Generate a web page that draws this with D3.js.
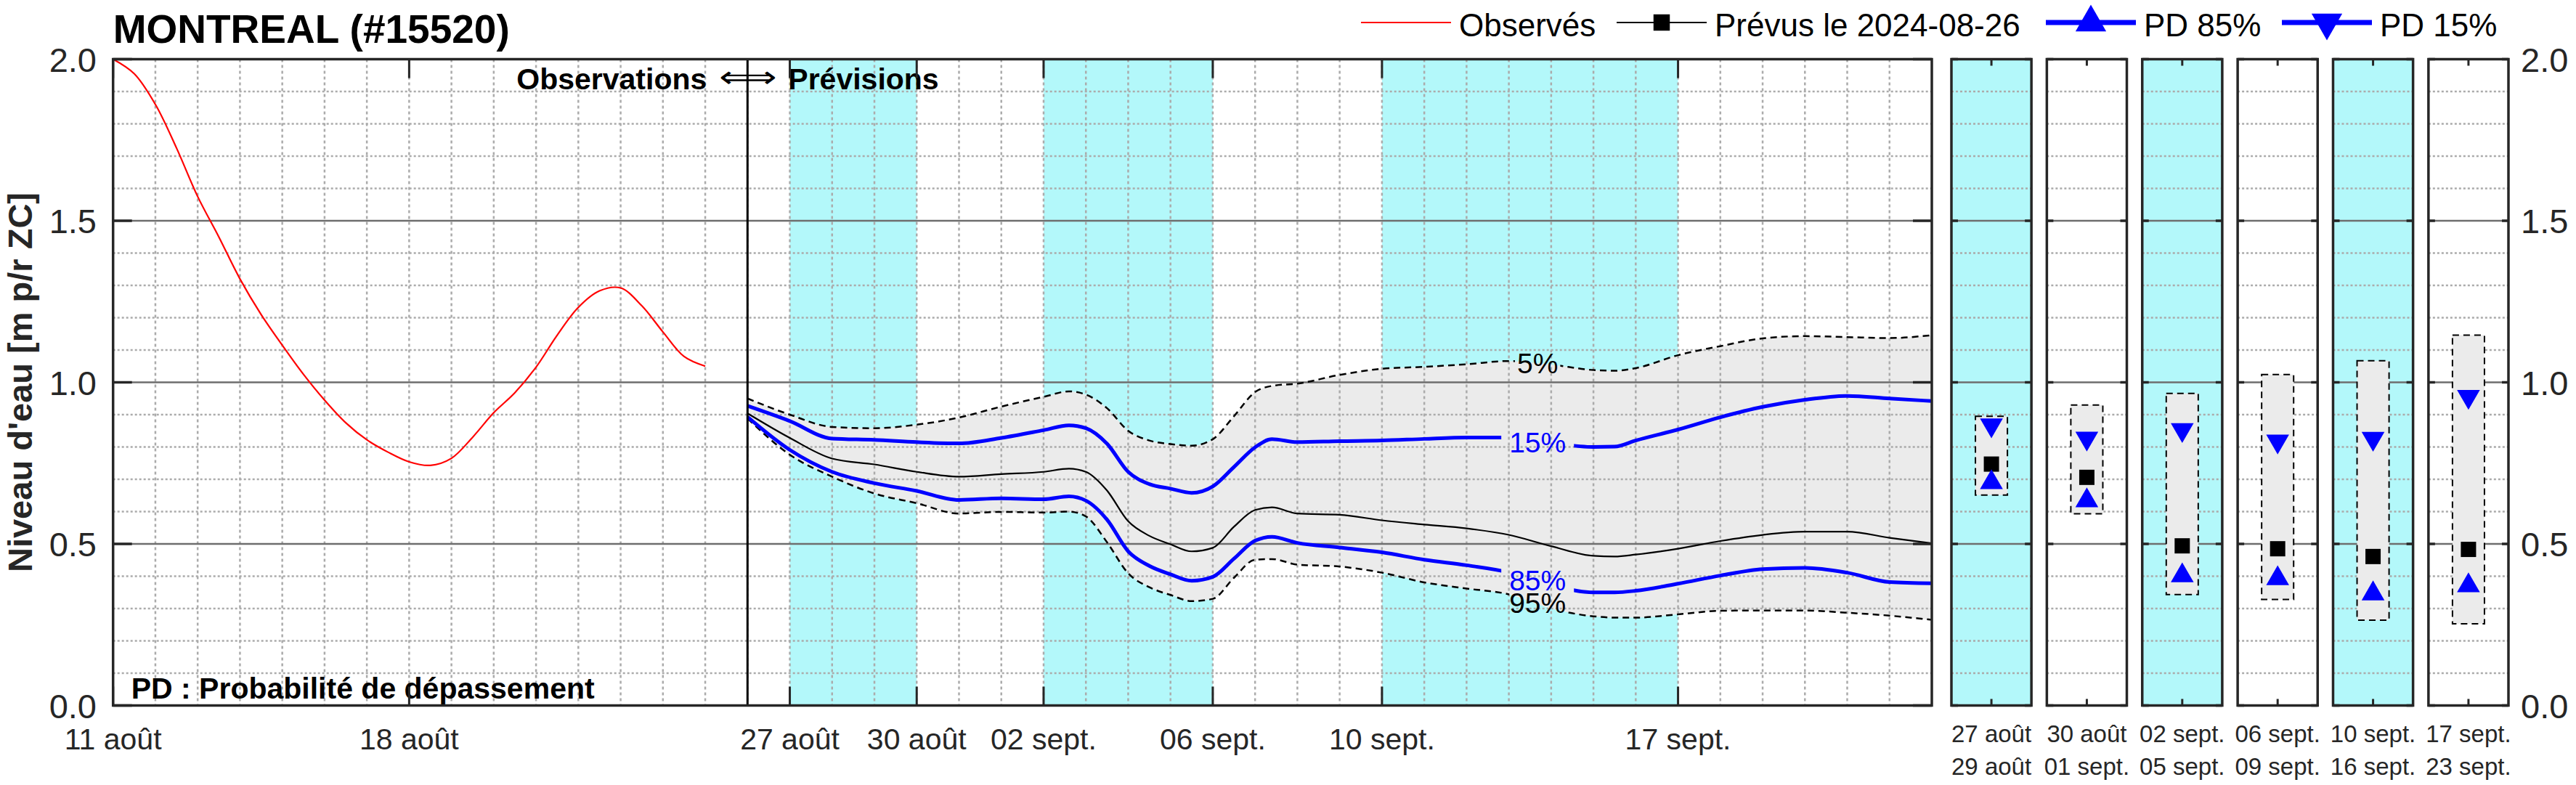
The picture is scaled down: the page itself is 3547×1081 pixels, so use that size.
<!DOCTYPE html>
<html><head><meta charset="utf-8">
<script src="https://cdn.jsdelivr.net/npm/d3@7"></script>
<style>
body{margin:0;background:#fff}
svg{display:block}
text{font-family:"Liberation Sans",Arial,Helvetica,sans-serif}
</style></head>
<body><svg id="c" width="3547" height="1081"></svg>
<script>
// ---------------- DATA ----------------
const startDate = "2024-08-11";
const endDate = "2024-09-23";
const forecastStart = "2024-08-26";

// observed water level (days after 11 août, m)
const obsDays = [0,0.5,1,1.5,2,2.5,3,3.5,4,4.5,5,5.5,6,6.5,7,7.5,8,8.5,9,9.5,10,10.5,11,11.5,12,12.5,13,13.5,14];
const obsLevels = [2.0,1.955,1.86,1.725,1.575,1.45,1.32,1.21,1.115,1.025,0.945,0.875,0.822,0.784,0.754,0.743,0.765,0.83,0.906,0.968,1.047,1.146,1.232,1.283,1.292,1.237,1.156,1.08,1.05];

// forecast (days after 11 août)
const fcDays = [15,16,17,18,19,20,21,22,22.6,23,23.5,24,24.5,25,25.5,26,26.5,27,27.4,28,29,30,31,32,33,34,35,35.5,36,37,38,39,40,41,42,43];
const fcP05 = [0.950,0.900,0.862,0.858,0.869,0.891,0.925,0.955,0.972,0.962,0.920,0.850,0.820,0.809,0.804,0.824,0.895,0.970,0.989,0.996,1.023,1.042,1.048,1.056,1.066,1.055,1.038,1.036,1.044,1.084,1.112,1.136,1.143,1.140,1.137,1.146];
const fcP15 = [0.927,0.880,0.826,0.822,0.815,0.811,0.828,0.852,0.867,0.858,0.810,0.723,0.685,0.671,0.658,0.678,0.738,0.799,0.824,0.815,0.818,0.820,0.825,0.829,0.829,0.812,0.800,0.801,0.820,0.854,0.892,0.924,0.946,0.958,0.950,0.942];
const fcP50 = [0.904,0.828,0.764,0.746,0.723,0.708,0.716,0.723,0.733,0.723,0.665,0.570,0.525,0.499,0.477,0.488,0.553,0.605,0.613,0.594,0.590,0.573,0.560,0.548,0.528,0.493,0.463,0.461,0.467,0.485,0.509,0.528,0.538,0.538,0.519,0.502];
const fcP85 = [0.893,0.791,0.723,0.688,0.664,0.636,0.641,0.638,0.647,0.634,0.575,0.477,0.432,0.406,0.386,0.398,0.454,0.510,0.522,0.503,0.489,0.474,0.451,0.434,0.412,0.372,0.350,0.350,0.355,0.377,0.402,0.422,0.426,0.411,0.382,0.378];
const fcP95 = [0.888,0.776,0.708,0.656,0.626,0.594,0.599,0.597,0.600,0.585,0.505,0.409,0.366,0.342,0.323,0.330,0.395,0.451,0.453,0.436,0.430,0.411,0.381,0.362,0.344,0.300,0.276,0.272,0.272,0.282,0.293,0.294,0.294,0.287,0.278,0.265];

// contour labels
const contourLabels = ["5%","15%","85%","95%"];
const contourKeys = ["p05","p15","p85","p95"];
const contourLabelDays = [33.68,33.68,33.68,33.68];
const contourLabelLevels = [1.060,0.814,0.387,0.317];

// main x ticks
const xTickDates = ["2024-08-11","2024-08-18","2024-08-27","2024-08-30","2024-09-02","2024-09-06","2024-09-10","2024-09-17"];
const xTickLabels = ["11 août","18 août","27 août","30 août","02 sept.","06 sept.","10 sept.","17 sept."];
const yTicks = [0,0.5,1,1.5,2];
const yTickLabels = ["0.0","0.5","1.0","1.5","2.0"];

// highlighted periods
const bandStart = ["2024-08-27","2024-09-02","2024-09-10"];
const bandEnd = ["2024-08-30","2024-09-06","2024-09-17"];

// side panels (periods)
const panelFrom = ["27 août","30 août","02 sept.","06 sept.","10 sept.","17 sept."];
const panelTo = ["29 août","01 sept.","05 sept.","09 sept.","16 sept.","23 sept."];
const panelCyan = [true,false,true,false,true,false];
const panelP05 = [0.895,0.930,0.966,1.024,1.067,1.146];
const panelP15 = [0.868,0.827,0.853,0.818,0.826,0.956];
const panelP50 = [0.747,0.706,0.494,0.485,0.461,0.483];
const panelP85 = [0.690,0.634,0.402,0.393,0.346,0.371];
const panelP95 = [0.651,0.593,0.343,0.328,0.264,0.253];

const legendLabels = ["Observés","Prévus le 2024-08-26","PD 85%","PD 15%"];

// ---------------- LAYOUT / STYLE ----------------
const plotTop = 81.5, plotBottom = 971.5;
const mainLeft = 155.7, mainRight = 2660;
const panelsLeft = 2687, panelsRight = 3454;
const CYAN = "#b3f8fa", GRAY = "#ebebeb", AX = "#262626", BLUE = "#0000ff";
const minorColor = "#ababab", majorColor = "#6e6e6e";

const svg = d3.select("#c");
svg.append("rect").attr("width",3547).attr("height",1081).attr("fill","#fff");
const defs = svg.append("defs");

const parseDay = s => new Date(s + "T00:00:00Z");
const base = parseDay(startDate).getTime();
const dayToDate = d => new Date(base + d*864e5);

const x = d3.scaleUtc().domain([parseDay(startDate), parseDay(endDate)]).range([mainLeft, mainRight]);
const y = d3.scaleLinear().domain([0,2]).range([plotBottom, plotTop]);

const minorLevels = d3.range(1,20).map(i=>i/10).filter(v=>Math.abs(v*2-Math.round(v*2))>1e-6);
const majorLevels = [0.5,1,1.5];

// ---------------- MAIN PLOT ----------------
defs.append("clipPath").attr("id","mainClip").append("rect")
  .attr("x",mainLeft).attr("y",plotTop).attr("width",mainRight-mainLeft).attr("height",plotBottom-plotTop);

const gm = svg.append("g").attr("clip-path","url(#mainClip)");
gm.append("rect").attr("x",mainLeft).attr("y",plotTop).attr("width",mainRight-mainLeft).attr("height",plotBottom-plotTop).attr("fill","#fff");

gm.selectAll("rect.band").data(bandStart.map((s,i)=>[parseDay(s),parseDay(bandEnd[i])])).join("rect")
  .attr("class","band").attr("x",d=>x(d[0])).attr("width",d=>x(d[1])-x(d[0]))
  .attr("y",plotTop).attr("height",plotBottom-plotTop).attr("fill",CYAN);

const fc = fcDays.map((d,i)=>({date:dayToDate(d),p05:fcP05[i],p15:fcP15[i],p50:fcP50[i],p85:fcP85[i],p95:fcP95[i]}));
const area = d3.area().x(d=>x(d.date)).y0(d=>y(d.p95)).y1(d=>y(d.p05)).curve(d3.curveMonotoneX);
gm.append("path").datum(fc).attr("d",area).attr("fill",GRAY);

// grid
const days = d3.utcDay.range(d3.utcDay.offset(x.domain()[0],1), x.domain()[1]);
gm.selectAll("line.vg").data(days).join("line").attr("class","vg")
  .attr("x1",d=>x(d)).attr("x2",d=>x(d)).attr("y1",plotTop).attr("y2",plotBottom)
  .attr("stroke",minorColor).attr("stroke-width",2.5).attr("stroke-dasharray","4,4");
gm.selectAll("line.hg").data(minorLevels).join("line").attr("class","hg")
  .attr("x1",mainLeft).attr("x2",mainRight).attr("y1",d=>y(d)).attr("y2",d=>y(d))
  .attr("stroke",minorColor).attr("stroke-width",2.5).attr("stroke-dasharray","3,3");
gm.selectAll("line.mg").data(majorLevels).join("line").attr("class","mg")
  .attr("x1",mainLeft).attr("x2",mainRight).attr("y1",d=>y(d)).attr("y2",d=>y(d))
  .attr("stroke",majorColor).attr("stroke-width",2.5);

// series
const lineFor = key => d3.line().x(d=>x(d.date)).y(d=>y(d[key])).curve(d3.curveMonotoneX);
const seriesStyle = {
  p05:{stroke:"#000",w:2.5,dash:"9,6"},
  p95:{stroke:"#000",w:2.5,dash:"9,6"},
  p50:{stroke:"#000",w:2.2,dash:null},
  p15:{stroke:BLUE,w:5,dash:null},
  p85:{stroke:BLUE,w:5,dash:null}
};
["p05","p95","p50","p15","p85"].forEach(k=>{
  const s = seriesStyle[k];
  const p = gm.append("path").datum(fc).attr("d",lineFor(k)).attr("fill","none")
    .attr("stroke",s.stroke).attr("stroke-width",s.w).attr("stroke-linejoin","round");
  if (s.dash) p.attr("stroke-dasharray",s.dash);
  if (contourKeys.includes(k)) p.attr("mask",`url(#mask_${k})`);
});

const obs = obsDays.map((d,i)=>({date:dayToDate(d),v:obsLevels[i]}));
gm.append("path").datum(obs).attr("d",d3.line().x(d=>x(d.date)).y(d=>y(d.v)).curve(d3.curveCatmullRom.alpha(0.5)))
  .attr("fill","none").attr("stroke","#ff0000").attr("stroke-width",2.2);

// divider
const xDiv = x(parseDay(forecastStart));
gm.append("line").attr("x1",xDiv).attr("x2",xDiv).attr("y1",plotTop).attr("y2",plotBottom)
  .attr("stroke","#000").attr("stroke-width",3);

// contour labels + masks
const labelColors = ["#000",BLUE,BLUE,"#000"];
const labelPad = [3,11,11,0];
const gl = svg.append("g");
contourLabels.forEach((t,i)=>{
  const tx = gl.append("text").attr("x",x(dayToDate(contourLabelDays[i]))).attr("y",y(contourLabelLevels[i])+14)
    .attr("text-anchor","middle").attr("font-size",39).attr("fill",labelColors[i]).text(t);
  const bb = tx.node().getBBox();
  const m = defs.append("mask").attr("id",`mask_${contourKeys[i]}`).attr("maskUnits","userSpaceOnUse")
    .attr("x",0).attr("y",0).attr("width",3547).attr("height",1081);
  m.append("rect").attr("x",0).attr("y",0).attr("width",3547).attr("height",1081).attr("fill","#fff");
  m.append("rect").attr("x",bb.x-labelPad[i]).attr("y",bb.y).attr("width",bb.width+2*labelPad[i]).attr("height",bb.height).attr("fill","#000");
});

// annotations
svg.append("text").attr("x",xDiv-56).attr("y",123).attr("text-anchor","end").attr("font-size",41).attr("font-weight","bold").text("Observations");
svg.append("text").attr("x",xDiv-39).attr("y",120).attr("font-size",41).attr("font-family","DejaVu Sans")
  .attr("textLength",80).attr("lengthAdjust","spacingAndGlyphs").text("\u27FA");
svg.append("text").attr("x",xDiv+56).attr("y",123).attr("text-anchor","start").attr("font-size",41).attr("font-weight","bold").text("Prévisions");
svg.append("text").attr("x",mainLeft+25).attr("y",962).attr("font-size",41).attr("font-weight","bold").text("PD : Probabilité de dépassement");

// main frame and ticks
const gAx = svg.append("g").attr("stroke",AX);
gAx.append("rect").attr("x",mainLeft).attr("y",plotTop).attr("width",mainRight-mainLeft).attr("height",plotBottom-plotTop)
  .attr("fill","none").attr("stroke-width",3.5);
const tickLen = 26;
xTickDates.forEach(s=>{
  const xx = x(parseDay(s));
  gAx.append("line").attr("x1",xx).attr("x2",xx).attr("y1",plotBottom).attr("y2",plotBottom-tickLen).attr("stroke-width",3);
  gAx.append("line").attr("x1",xx).attr("x2",xx).attr("y1",plotTop).attr("y2",plotTop+tickLen).attr("stroke-width",3);
});
yTicks.forEach(v=>{
  gAx.append("line").attr("x1",mainLeft).attr("x2",mainLeft+tickLen).attr("y1",y(v)).attr("y2",y(v)).attr("stroke-width",3.5);
  gAx.append("line").attr("x1",mainRight).attr("x2",mainRight-tickLen).attr("y1",y(v)).attr("y2",y(v)).attr("stroke-width",3.5);
});
svg.append("g").selectAll("text").data(xTickDates).join("text")
  .attr("x",d=>x(parseDay(d))).attr("y",1032).attr("text-anchor","middle").attr("font-size",41).attr("fill",AX)
  .text((d,i)=>xTickLabels[i]);
svg.append("g").selectAll("text").data(yTicks).join("text")
  .attr("x",133).attr("y",d=>y(d)+17).attr("text-anchor","end").attr("font-size",47).attr("fill",AX)
  .text((d,i)=>yTickLabels[i]);
svg.append("g").selectAll("text").data(yTicks).join("text")
  .attr("x",3471).attr("y",d=>y(d)+17).attr("text-anchor","start").attr("font-size",47).attr("fill",AX)
  .text((d,i)=>yTickLabels[i]);

// y label
svg.append("text").attr("transform",`translate(44,${y(1)}) rotate(-90)`).attr("text-anchor","middle")
  .attr("font-size",47).attr("font-weight","bold").attr("fill",AX).text("Niveau d'eau [m p/r ZC]");

// title
svg.append("text").attr("x",mainLeft).attr("y",59).attr("font-size",55).attr("font-weight","bold").attr("fill","#000").text("MONTREAL (#15520)");

// ---------------- SIDE PANELS ----------------
const px = d3.scaleBand().domain(d3.range(panelFrom.length)).range([panelsLeft,panelsRight]).paddingInner(0.1616).paddingOuter(0);
const bw = px.bandwidth();
const triUp = d3.symbol().type(d3.symbolTriangle).size(430)();
const sq = d3.symbol().type(d3.symbolSquare).size(441)();
const pTick = 9;
panelFrom.forEach((lab,i)=>{
  const x0 = px(i), cx = x0 + bw/2;
  const g = svg.append("g");
  g.append("rect").attr("x",x0).attr("y",plotTop).attr("width",bw).attr("height",plotBottom-plotTop).attr("fill",panelCyan[i]?CYAN:"#fff");
  g.selectAll("line.hg").data(minorLevels).join("line").attr("class","hg")
    .attr("x1",x0).attr("x2",x0+bw).attr("y1",d=>y(d)).attr("y2",d=>y(d))
    .attr("stroke",minorColor).attr("stroke-width",2.5).attr("stroke-dasharray","3,3");
  g.selectAll("line.mg").data(majorLevels).join("line").attr("class","mg")
    .attr("x1",x0).attr("x2",x0+bw).attr("y1",d=>y(d)).attr("y2",d=>y(d))
    .attr("stroke",majorColor).attr("stroke-width",2.5);
  const boxW = bw*0.4;
  g.append("rect").attr("x",cx-boxW/2).attr("width",boxW).attr("y",y(panelP05[i])).attr("height",y(panelP95[i])-y(panelP05[i]))
    .attr("fill",GRAY).attr("stroke","#000").attr("stroke-width",2).attr("stroke-dasharray","9,6");
  g.append("path").attr("d",triUp).attr("transform",`translate(${cx},${y(panelP15[i])}) rotate(180)`).attr("fill",BLUE);
  g.append("path").attr("d",sq).attr("transform",`translate(${cx},${y(panelP50[i])})`).attr("fill","#000");
  g.append("path").attr("d",triUp).attr("transform",`translate(${cx},${y(panelP85[i])})`).attr("fill",BLUE);
  // frame & ticks
  const ga = g.append("g").attr("stroke",AX);
  ga.append("rect").attr("x",x0).attr("y",plotTop).attr("width",bw).attr("height",plotBottom-plotTop).attr("fill","none").attr("stroke-width",3.5);
  ga.append("line").attr("x1",cx).attr("x2",cx).attr("y1",plotTop).attr("y2",plotTop+pTick).attr("stroke-width",3);
  ga.append("line").attr("x1",cx).attr("x2",cx).attr("y1",plotBottom).attr("y2",plotBottom-pTick).attr("stroke-width",3);
  yTicks.forEach(v=>{
    ga.append("line").attr("x1",x0).attr("x2",x0+pTick).attr("y1",y(v)).attr("y2",y(v)).attr("stroke-width",3.5);
    ga.append("line").attr("x1",x0+bw).attr("x2",x0+bw-pTick).attr("y1",y(v)).attr("y2",y(v)).attr("stroke-width",3.5);
  });
  g.append("text").attr("x",cx).attr("y",1022).attr("text-anchor","middle").attr("font-size",33).attr("fill",AX).text(lab);
  g.append("text").attr("x",cx).attr("y",1067).attr("text-anchor","middle").attr("font-size",33).attr("fill",AX).text(panelTo[i]);
});

// ---------------- LEGEND ----------------
const legendLineX = [1874,2226,2817,3142];
const legendLineLen = 124;
const legY = 31;
const legStroke = ["#ff0000","#000",BLUE,BLUE];
const legWidth = [2.2,2.2,7,7];
const gLeg = svg.append("g");
legendLabels.forEach((lab,i)=>{
  const lx = legendLineX[i];
  gLeg.append("line").attr("x1",lx).attr("x2",lx+legendLineLen).attr("y1",legY).attr("y2",legY)
    .attr("stroke",legStroke[i]).attr("stroke-width",legWidth[i]);
  const mx = lx + legendLineLen/2;
  if (i===1) gLeg.append("path").attr("d",d3.symbol().type(d3.symbolSquare).size(506)()).attr("transform",`translate(${mx},${legY})`).attr("fill","#000");
  if (i===2) gLeg.append("path").attr("d",d3.symbol().type(d3.symbolTriangle).size(773)()).attr("transform",`translate(${mx},${legY})`).attr("fill",BLUE);
  if (i===3) gLeg.append("path").attr("d",d3.symbol().type(d3.symbolTriangle).size(773)()).attr("transform",`translate(${mx},${legY}) rotate(180)`).attr("fill",BLUE);
  gLeg.append("text").attr("x",lx+legendLineLen+11).attr("y",50).attr("font-size",44).attr("fill","#000").text(lab);
});
</script></body></html>
